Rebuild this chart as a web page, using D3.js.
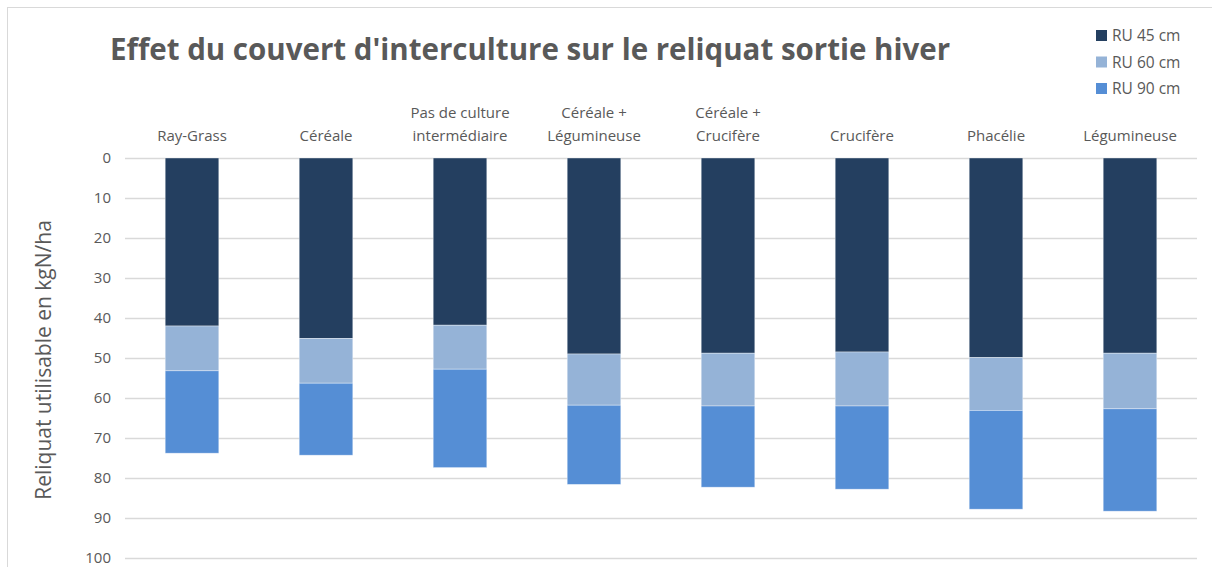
<!DOCTYPE html>
<html>
<head>
<meta charset="utf-8">
<script src="https://cdn.jsdelivr.net/npm/d3@7"></script>
<style>
  body { margin: 0; background: #fff; }
  text { font-family: "Open Sans", "Noto Sans", sans-serif; fill: #595959; }
</style>
</head>
<body>
<svg id="chart" width="1212" height="567"></svg>
<script>
// categories (label lines)
var categories = [
  ["Ray-Grass"],
  ["Céréale"],
  ["Pas de culture", "intermédiaire"],
  ["Céréale +", "Légumineuse"],
  ["Céréale +", "Crucifère"],
  ["Crucifère"],
  ["Phacélie"],
  ["Légumineuse"]
];
var seriesNames = ["RU 45 cm", "RU 60 cm", "RU 90 cm"];
var seriesColors = ["#243f60", "#95b3d7", "#558ed5"];
// stacked segment values (kgN/ha)
var ru45 = [42, 45.1, 41.8, 49, 48.8, 48.5, 49.9, 48.8];
var ru60 = [11.2, 11.2, 11, 12.8, 13.2, 13.5, 13.2, 13.9];
var ru90 = [20.6, 18, 24.6, 19.8, 20.3, 20.8, 24.7, 25.6];
var yTicks = [0, 10, 20, 30, 40, 50, 60, 70, 80, 90, 100];

var svg = d3.select("#chart");

// frame
svg.append("rect")
  .attr("x", 7.5).attr("y", 7.5)
  .attr("width", 1220).attr("height", 600)
  .attr("fill", "none")
  .attr("stroke", "#d9d9d9");

var rows = categories.map(function(c, i) {
  return { key: c.join(" "), lines: c, "RU 45 cm": ru45[i], "RU 60 cm": ru60[i], "RU 90 cm": ru90[i] };
});

var x = d3.scaleBand()
  .domain(rows.map(function(d) { return d.key; }))
  .range([125, 1197])
  .paddingInner(0.6)
  .paddingOuter(0.3);

var y = d3.scaleLinear().domain([0, 100]).range([158, 558]);

// gridlines
svg.append("g").selectAll("line").data(yTicks).enter().append("line")
  .attr("x1", 125).attr("x2", 1197)
  .attr("y1", function(d) { return y(d) + 0.5; })
  .attr("y2", function(d) { return y(d) + 0.5; })
  .attr("stroke", "#d9d9d9").attr("stroke-width", 1.3);

// y axis labels
var yAxis = d3.axisLeft(y).tickValues(yTicks).tickSize(0).tickPadding(0);
var ya = svg.append("g").attr("transform", "translate(111,0)").call(yAxis);
ya.select(".domain").remove();
ya.selectAll("text")
  .style("font-size", "15px")
  .style("font-family", "'Open Sans', sans-serif")
  .attr("fill", "#595959");

// stacked bars
var stack = d3.stack().keys(seriesNames)(rows);
var layers = svg.append("g").selectAll("g").data(stack).enter().append("g")
  .attr("fill", function(d, i) { return seriesColors[i]; });
layers.selectAll("rect").data(function(d) { return d; }).enter().append("rect")
  .attr("x", function(d) { return x(d.data.key); })
  .attr("width", x.bandwidth())
  .attr("y", function(d) { return y(d[0]); })
  .attr("height", function(d) { return y(d[1]) - y(d[0]); })
  .attr("stroke", "#ffffff").attr("stroke-opacity", 0.5).attr("stroke-width", 0.75);

// category labels above plot
var cats = svg.append("g").selectAll("text").data(rows).enter().append("text")
  .attr("x", function(d) { return x(d.key) + x.bandwidth() / 2; })
  .attr("text-anchor", "middle")
  .style("font-size", "15px");
cats.each(function(d) {
  var t = d3.select(this);
  var n = d.lines.length;
  d.lines.forEach(function(l, j) {
    t.append("tspan")
      .attr("x", x(d.key) + x.bandwidth() / 2)
      .attr("y", 141 - (n - 1 - j) * 23)
      .text(l);
  });
});

// title
svg.append("text")
  .attr("x", 530).attr("y", 60)
  .attr("text-anchor", "middle")
  .style("font-size", "29.5px")
  .style("font-weight", "bold")
  .text("Effet du couvert d'interculture sur le reliquat sortie hiver");

// y axis title
svg.append("text")
  .attr("transform", "translate(51,360) rotate(-90)")
  .attr("text-anchor", "middle")
  .style("font-size", "21px")
  .text("Reliquat utilisable en kgN/ha");

// legend
var leg = svg.append("g").selectAll("g").data(seriesNames).enter().append("g")
  .attr("transform", function(d, i) { return "translate(1096," + (30 + i * 26.5) + ")"; });
leg.append("rect").attr("width", 11).attr("height", 11)
  .attr("fill", function(d, i) { return seriesColors[i]; });
leg.append("text").attr("x", 16).attr("y", 11)
  .style("font-size", "15.5px")
  .text(function(d) { return d; });
</script>
</body>
</html>
